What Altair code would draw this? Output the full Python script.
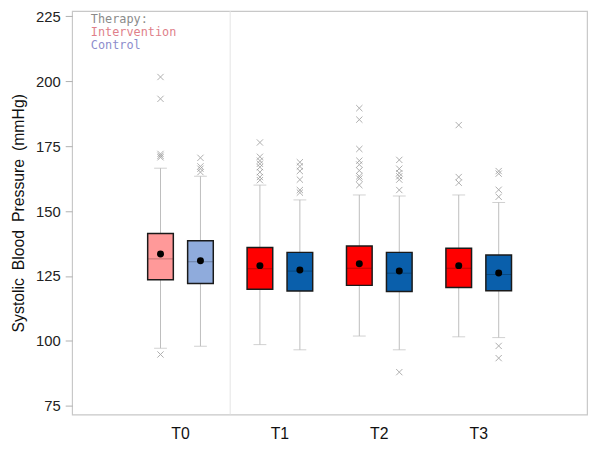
import altair as alt
import pandas as pd

times = ["T0", "T1", "T2", "T3"]
groups = ["Intervention", "Control"]

box_time = ["T0", "T0", "T1", "T1", "T2", "T2", "T3", "T3"]
box_group = ["Intervention", "Control"] * 4
q1 = [123.6, 122.1, 119.9, 119.2, 121.4, 119.0, 120.6, 119.3]
q3 = [141.4, 138.6, 136.0, 134.1, 136.6, 134.1, 135.7, 133.1]
median = [131.6, 130.5, 127.8, 126.9, 128.0, 126.1, 128.0, 125.6]
mean = [133.5, 130.9, 129.0, 127.3, 129.7, 126.9, 129.0, 126.2]
whisk_lo = [97.2, 98.0, 98.6, 96.6, 101.9, 96.6, 101.6, 101.3]
whisk_hi = [166.5, 163.4, 160.0, 154.3, 156.2, 155.8, 156.2, 153.3]

out_time = (["T0"] * 6 + ["T0"] * 4 + ["T1"] * 8 + ["T1"] * 6 +
            ["T2"] * 9 + ["T2"] * 7 + ["T3"] * 3 + ["T3"] * 6)
out_group = (["Intervention"] * 6 + ["Control"] * 4 + ["Intervention"] * 8 + ["Control"] * 6 +
             ["Intervention"] * 9 + ["Control"] * 7 + ["Intervention"] * 3 + ["Control"] * 6)
out_value = [201.6, 193.2, 172.0, 171.3, 170.7, 94.8,
             170.5, 167.2, 166.3, 165.0,
             176.4, 170.9, 169.4, 168.2, 166.9, 165.0, 163.1, 161.9,
             168.8, 167.2, 165.4, 162.1, 158.1, 157.1,
             189.6, 185.2, 173.9, 169.4, 167.9, 165.6, 163.4, 162.5, 160.0,
             169.7, 166.3, 164.6, 163.4, 162.1, 158.1, 88.0,
             183.1, 163.1, 160.9,
             165.4, 164.4, 158.2, 155.5, 98.1, 93.4]

y_ticks = [75, 100, 125, 150, 175, 200, 225]
legend_labels = ["Therapy:", "Intervention", "Control"]
y_title = "Systolic\u2002Blood\u2002Pressure\u2002(mmHg)"

# styles
legend_colors = ["#8a8a8a", "#e07f8a", "#8c8ccc"]
fill_domain = ["Intervention baseline", "Control baseline", "Intervention", "Control"]
fill_range = ["#ff9999", "#8fabdc", "#ff0000", "#0a5fab"]

box_key = [f"{g} baseline" if t == "T0" else g for t, g in zip(box_time, box_group)]
boxes = pd.DataFrame({
    "time": box_time, "group": box_group, "key": box_key,
    "q1": q1, "q3": q3, "median": median, "mean": mean,
    "lo": whisk_lo, "hi": whisk_hi,
})
outliers = pd.DataFrame({"time": out_time, "group": out_group, "value": out_value})

FONT = "Liberation Sans"
x_scale = alt.Scale(type="band", domain=times, paddingInner=0, paddingOuter=0.59)
x_axis = alt.Axis(title=None, labelAngle=0, ticks=False, domain=False, labelFontSize=16,
                  labelPadding=11, labelColor="#111", labelFont=FONT)
X = alt.X("time:N", scale=x_scale, axis=x_axis)
XO = alt.XOffset("group:N", scale=alt.Scale(domain=groups, paddingInner=0, paddingOuter=0.244))
y_scale = alt.Scale(domain=[71.7, 227], nice=False, zero=False)
y_axis = alt.Axis(values=y_ticks, title=y_title, grid=False,
                  domain=False, tickSize=7, tickColor="#b0b0b0", labelFontSize=15,
                  labelColor="#222", labelFont=FONT, labelPadding=5, titleFont=FONT,
                  titleFontSize=16, titleFontWeight="normal", titleColor="#111",
                  titlePadding=9)


def Y(field):
    return alt.Y(f"{field}:Q", scale=y_scale, axis=y_axis)


base = alt.Chart(boxes)

sep = alt.Chart(pd.DataFrame({"time": [times[0]]})).mark_rule(
    color="#e4e4e4", strokeWidth=1).encode(
    x=alt.X("time:N", scale=x_scale, axis=x_axis, bandPosition=1))

whisk = base.mark_rule(color="#bdbdbd", strokeWidth=1).encode(
    x=X, xOffset=XO, y=Y("lo"), y2="hi:Q")
cap_lo = base.mark_tick(color="#bdbdbd", size=13, thickness=1).encode(
    x=X, xOffset=XO, y=Y("lo"))
cap_hi = base.mark_tick(color="#bdbdbd", size=13, thickness=1).encode(
    x=X, xOffset=XO, y=Y("hi"))
box = base.mark_bar(size=26, stroke="#1a1a1a", strokeWidth=1.5).encode(
    x=X, xOffset=XO, y=Y("q1"), y2="q3:Q",
    color=alt.Color("key:N", scale=alt.Scale(domain=fill_domain, range=fill_range), legend=None))
med = base.mark_tick(color="#000000", opacity=0.25, size=25, thickness=1).encode(
    x=X, xOffset=XO, y=Y("median"))
mn = base.mark_point(filled=True, color="#000000", size=50, opacity=1).encode(
    x=X, xOffset=XO, y=Y("mean"))
outs = alt.Chart(outliers).mark_point(
    shape="M-1,-1L1,1M-1,1L1,-1", filled=False, color="#9a9a9a", size=40,
    strokeWidth=1, opacity=0.8).encode(x=X, xOffset=XO, y=Y("value"))

legend_layers = []
for i, (lab, col) in enumerate(zip(legend_labels, legend_colors)):
    legend_layers.append(
        alt.Chart(pd.DataFrame({"t": [lab]})).mark_text(
            align="left", baseline="top", color=col, font="DejaVu Sans Mono", fontSize=12
        ).encode(x=alt.value(19), y=alt.value(3 + 13 * i), text="t:N"))

chart = alt.layer(sep, whisk, cap_lo, cap_hi, box, med, mn, outs, *legend_layers).properties(
    width=522, height=409,
    autosize=alt.AutoSizeParams(type="none"),
    padding={"left": 65, "top": 0, "right": 5, "bottom": 39},
).configure_view(stroke="#c8c8c8", strokeWidth=1.2)

chart.save("out.html", embed_options={"renderer": "svg", "actions": False})
